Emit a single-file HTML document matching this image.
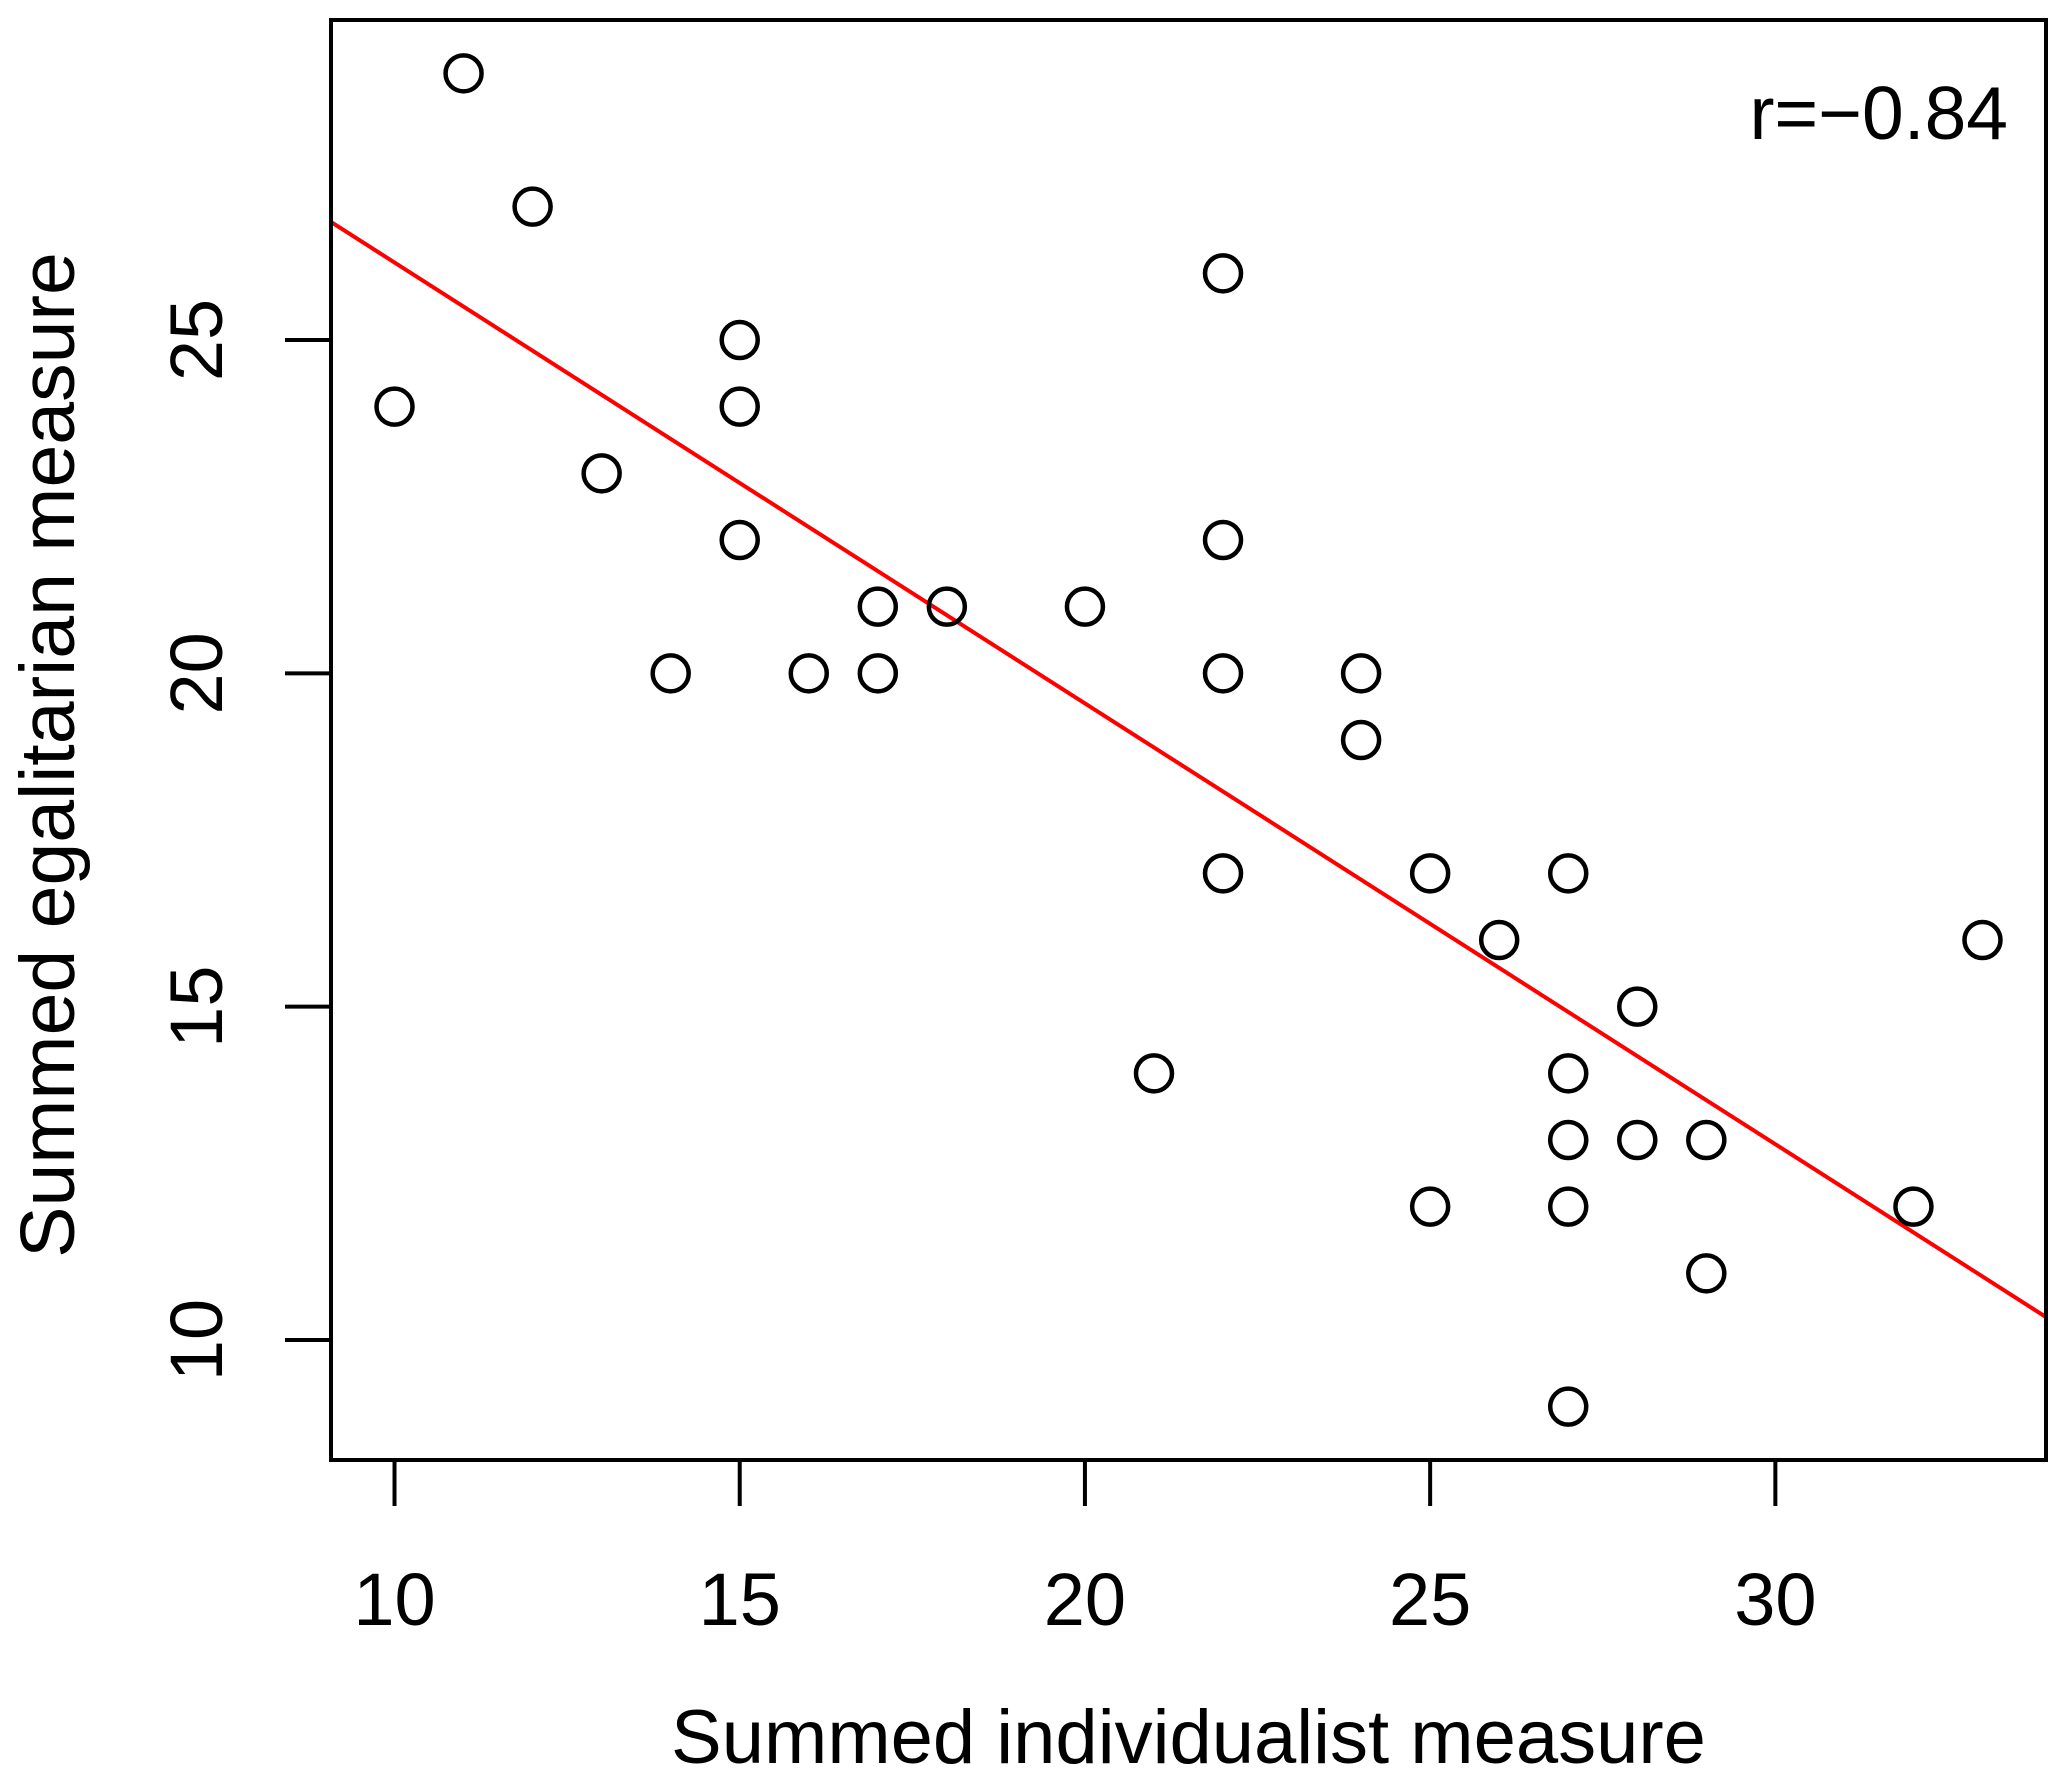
<!DOCTYPE html>
<html><head><meta charset="utf-8"><style>
html,body{margin:0;padding:0;background:#fff;}
svg{display:block;font-family:"Liberation Sans",Arial,sans-serif;}
</style></head><body>
<svg id="chart" width="2067" height="1783" viewBox="0 0 2067 1783" xmlns="http://www.w3.org/2000/svg">
<rect x="0" y="0" width="2067" height="1783" fill="#fff"/>
<g id="marks"></g>
<g id="axes"></g>
</svg>
<script>
const xValues = [11,12,10,13,15,15,15,14,16,17,17,18,20,22,22,22,22,21,24,24,25,25,26,27,27,27,27,27,28,28,29,29,32,33];
const yValues = [29,27,24,23,25,24,22,20,20,21,20,21,21,26,22,20,17,14,20,19,17,12,16,17,14,13,12,9,15,13,13,11,12,16];
const xTicks = [10,15,20,25,30];
const yTicks = [10,15,20,25];
const rLabel = "r=\u22120.84";

const NS = "http://www.w3.org/2000/svg";
const L = 331, R = 2046, T = 20, B = 1460;
const xmin = Math.min(...xValues), xmax = Math.max(...xValues);
const ymin = Math.min(...yValues), ymax = Math.max(...yValues);
const x0 = xmin - 0.04*(xmax-xmin), x1 = xmax + 0.04*(xmax-xmin);
const y0 = ymin - 0.04*(ymax-ymin), y1 = ymax + 0.04*(ymax-ymin);
function sx(v){ return L + (v - x0)/(x1 - x0)*(R - L); }
function sy(v){ return B - (v - y0)/(y1 - y0)*(B - T); }
function mk(tag, attrs, parent){ const e = document.createElementNS(NS, tag); for (const k in attrs) e.setAttribute(k, attrs[k]); parent.appendChild(e); return e; }
const marks = document.getElementById('marks');
const axes = document.getElementById('axes');

const n = xValues.length;
const mx = xValues.reduce((a,b)=>a+b,0)/n, my = yValues.reduce((a,b)=>a+b,0)/n;
let sxy=0, sxx=0;
for (let i=0;i<n;i++){ sxy += (xValues[i]-mx)*(yValues[i]-my); sxx += (xValues[i]-mx)**2; }
const slope = sxy/sxx, icpt = my - slope*mx;
const line = mk('line', {x1:sx(x0), y1:sy(icpt+slope*x0), x2:sx(x1), y2:sy(icpt+slope*x1), stroke:'#ff0000', 'stroke-width':4}, marks);



for (let i=0;i<n;i++){
  const c = mk('circle', {cx:sx(xValues[i]), cy:sy(yValues[i]), r:18, fill:'none', stroke:'#000', 'stroke-width':4.5}, marks);
  
  
}

const box = mk('rect', {x:L, y:T, width:R-L, height:B-T, fill:'none', stroke:'#000', 'stroke-width':4}, axes);



const xa = mk('line', {x1:sx(xTicks[0]), y1:B, x2:sx(xTicks[xTicks.length-1]), y2:B, stroke:'#000','stroke-width':4}, axes);


xTicks.forEach(t=>{
  const tk = mk('line', {x1:sx(t), y1:B, x2:sx(t), y2:B+46, stroke:'#000','stroke-width':4}, axes);
  
  
  const tl = mk('text', {x:sx(t), y:1625, 'text-anchor':'middle', 'font-size':74, fill:'#000'}, axes);
  tl.textContent = t;
  
  
});
const ya = mk('line', {x1:L, y1:sy(yTicks[0]), x2:L, y2:sy(yTicks[yTicks.length-1]), stroke:'#000','stroke-width':4}, axes);


yTicks.forEach(t=>{
  const tk = mk('line', {x1:L-46, y1:sy(t), x2:L, y2:sy(t), stroke:'#000','stroke-width':4}, axes);
  
  
  const tl = mk('text', {x:222, y:sy(t), 'text-anchor':'middle', 'font-size':74, fill:'#000', transform:'rotate(-90 222 '+sy(t)+')'}, axes);
  tl.textContent = t;
  
  
});
const xt = mk('text', {x:(L+R)/2, y:1763, 'text-anchor':'middle', 'font-size':76, fill:'#000'}, axes);
xt.textContent = 'Summed individualist measure';


const yt = mk('text', {x:74, y:755, 'text-anchor':'middle', 'font-size':77, fill:'#000', transform:'rotate(-90 74 755)'}, axes);
yt.textContent = 'Summed egalitarian measure';


const rl = mk('text', {x:2008, y:139, 'text-anchor':'end', 'font-size':75, fill:'#000'}, axes);
rl.textContent = rLabel;


</script>
</body></html>
